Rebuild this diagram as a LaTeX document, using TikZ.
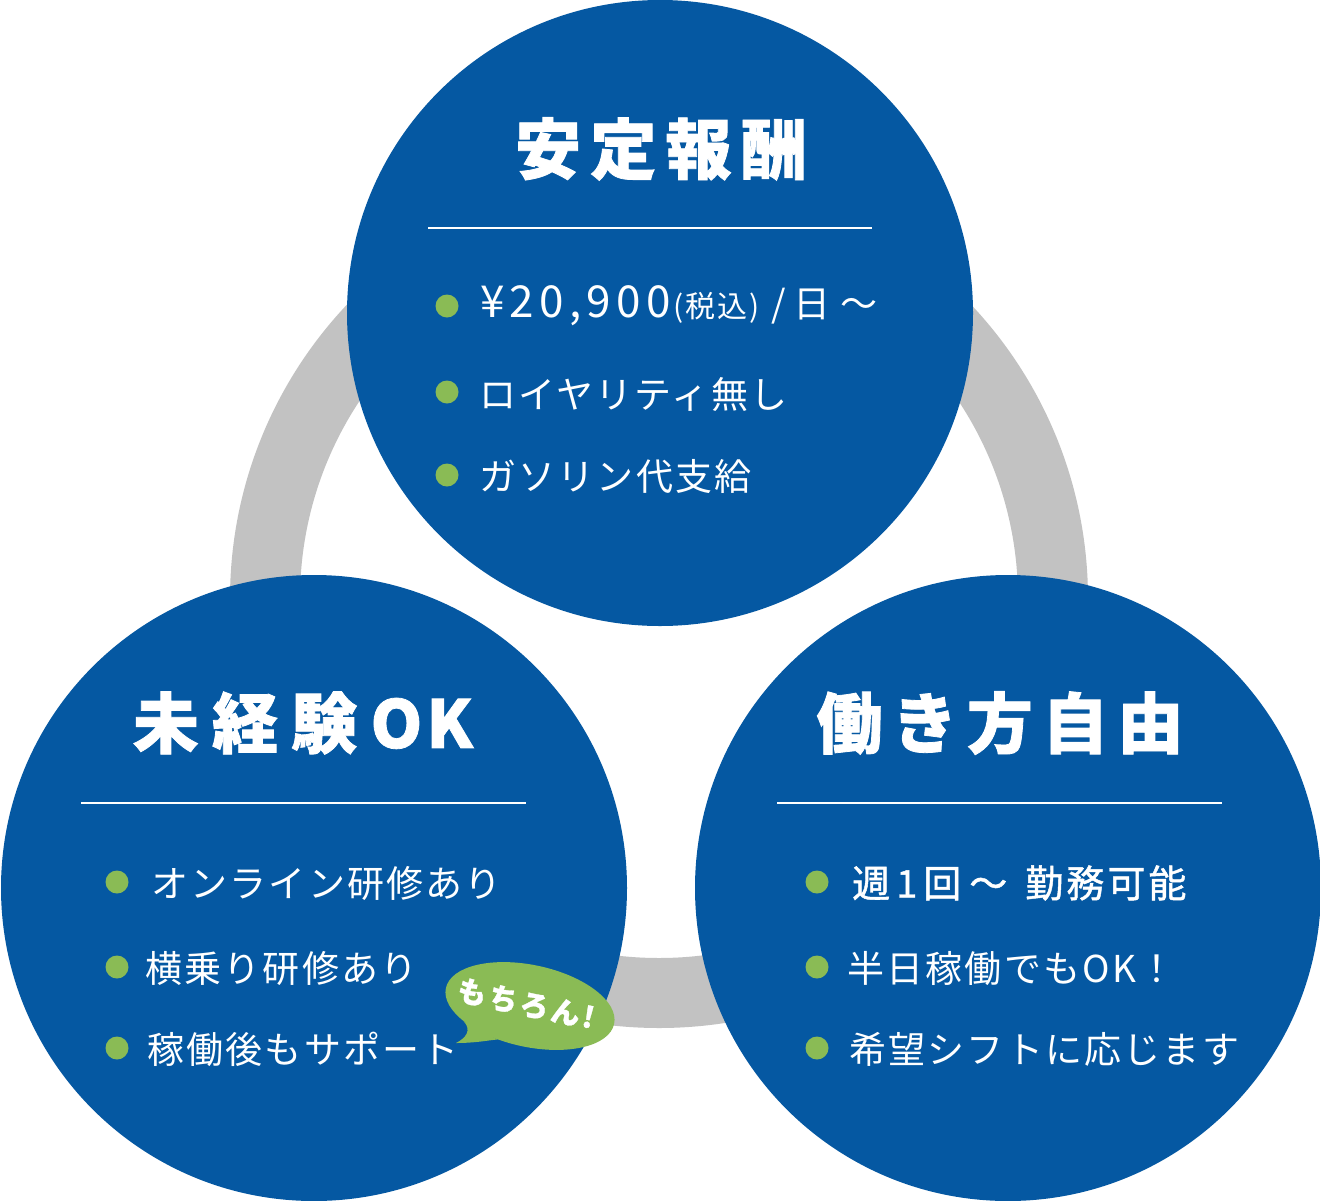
\documentclass[tikz,border=0pt]{standalone}
\usepackage{fontspec}
\usetikzlibrary{shapes.geometric}
\newfontfamily\jp[LetterSpace=6]{Noto Sans CJK JP}
\newfontfamily\jptitle[LetterSpace=14,FakeBold=1.2]{Noto Sans CJK JP}
\newfontfamily\jptitlew[LetterSpace=20,FakeBold=1.2]{Noto Sans CJK JP}
\newfontfamily\jpmed[LetterSpace=8,FakeBold=1.2]{Noto Sans CJK JP}
\newfontfamily\jpnum[LetterSpace=12]{Noto Sans CJK JP}
\newfontfamily\jpbub[LetterSpace=10,FakeBold=1]{Noto Sans CJK JP}
\definecolor{cblue}{HTML}{0558A2}
\definecolor{cgreen}{HTML}{8ABB55}
\definecolor{cgray}{HTML}{C2C2C2}
\tikzset{
  bigcircle/.style={circle, fill=cblue, minimum size=626pt, inner sep=0pt},
  titletext/.style={text=white, inner sep=0pt, font=\jptitle\bfseries\fontsize{66}{72}\selectfont},
  itemtext/.style={text=white, inner sep=0pt, anchor=west, font=\jp\fontsize{37}{42}\selectfont},
  dotmark/.style={circle, fill=cgreen, minimum size=23pt, inner sep=0pt},
  rule/.style={draw=white, line width=2.6pt},
  bubble/.style={ellipse, fill=cgreen, minimum width=172pt, minimum height=82pt, inner sep=0pt},
}
\begin{document}
\begin{tikzpicture}[x=1pt,y=-1pt]
\useasboundingbox (0,0) rectangle (1320,1200);
\fill[white] (0,0) rectangle (1320,1200);
% gray ring
\coordinate (ringc) at (659,599);
\draw[cgray, line width=70pt] (ringc) circle (394);
% circles
\node[bigcircle] (top) at (660,313) {};
\node[bigcircle] (left) at (314,888) {};
\node[bigcircle] (right) at (1008,888) {};
% top circle
\node[titletext] (t1) at (661,149) {安定報酬};
\draw[rule] (428,228) -- (872,228);
\node[dotmark] (d11) at (447,306) {};
\node[dotmark] (d12) at (447,392) {};
\node[dotmark] (d13) at (447,475) {};
\node[itemtext] (i11) at (480,306) {{\jpnum\fontsize{44}{44}\selectfont ¥20,900}\hspace{3pt}{\fontsize{30}{30}\selectfont (税込)}\hspace{12pt}/\hspace{8pt}日\hspace{10pt}～};
\node[itemtext] (i12) at (479,394) {ロイヤリティ無し};
\node[itemtext] (i13) at (479,476) {ガソリン代支給};
% left circle
\node[titletext, font=\jptitlew\bfseries\fontsize{66}{72}\selectfont] (t2) at (303,723) {未経験O\hspace{4pt}K};
\draw[rule] (81,803) -- (526,803);
\node[dotmark] (d21) at (117,882) {};
\node[dotmark] (d22) at (117,967) {};
\node[dotmark] (d23) at (117,1048) {};
\node[itemtext] (i21) at (151,883) {オンライン研修あり};
\node[itemtext] (i22) at (145,968) {横乗り研修あり};
\node[itemtext] (i23) at (147,1049) {稼働後もサポート};
% right circle
\node[titletext] (t3) at (1000,723) {働き方自由};
\draw[rule] (777,803) -- (1222,803);
\node[dotmark] (d31) at (817,882) {};
\node[dotmark] (d32) at (817,967) {};
\node[dotmark] (d33) at (817,1048) {};
\node[itemtext, font=\jpmed\fontsize{38}{42}\selectfont] (i31) at (852,883) {週\hspace{6pt}1\hspace{6pt}回\hspace{8pt}～\hspace{18pt}勤務可能};
\node[itemtext] (i32) at (847,968) {半日稼働でもOK！};
\node[itemtext] (i33) at (849,1049) {希望シフトに応じます};
% speech bubble
\node[bubble, rotate=-12] (bub) at (530,1006) {};
\coordinate (tip) at (456,1043);
\fill[cgreen] (bub.205) .. controls (472,1030) and (466,1038) .. (tip)
  .. controls (476,1043) and (490,1040) .. (bub.238) -- cycle;
\node[text=white, inner sep=0pt, rotate=-12, font=\jpbub\bfseries\fontsize{29}{32}\selectfont] (btxt) at (526,1004) {もちろん!};
\end{tikzpicture}
\end{document}
